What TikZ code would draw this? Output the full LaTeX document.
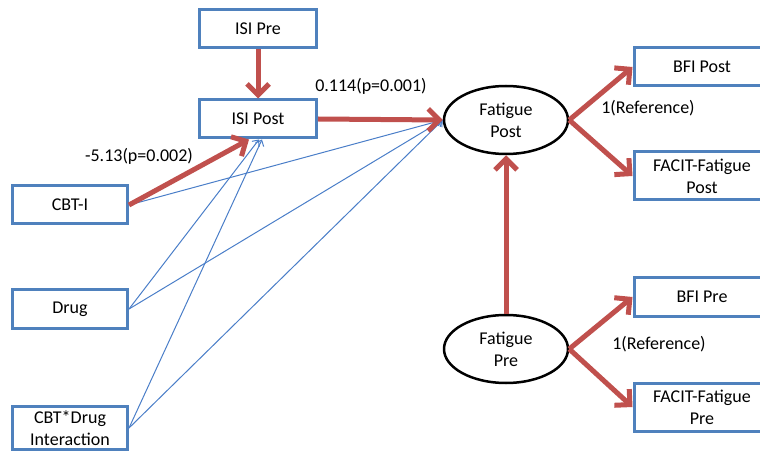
\documentclass[tikz,border=0pt]{standalone}
\usepackage{fontspec}
\setmainfont{Carlito}
\usepackage{tikz}
\usetikzlibrary{arrows.meta,shapes.geometric}
\definecolor{SEMBlue}{HTML}{4F81BD}
\definecolor{SEMRed}{HTML}{C0504D}
\definecolor{SEMLink}{HTML}{4A7EC8}
\tikzset{
  obsbox/.style={draw=SEMBlue,line width=3pt,fill=white,minimum width=117pt,minimum height=38pt,align=center,inner sep=1pt},
  outbox/.style={obsbox,minimum width=136pt},
  latent/.style={draw=black,line width=2.5pt,ellipse,fill=white,minimum width=124pt,minimum height=68pt,align=center,inner sep=0pt},
  strongpath/.style={draw=SEMRed,line width=5pt,-{Straight Barb[length=11pt,width=22pt,line width=5pt]}},
  weakpath/.style={draw=SEMLink,line width=1pt,-{Straight Barb[length=5pt,width=9pt]}},
  estlabel/.style={font=\fontsize{18}{22}\selectfont}
}
\begin{document}
\begin{tikzpicture}[x=1pt,y=-1pt,font=\fontsize{18}{22}\selectfont]
\path[use as bounding box] (0,0) rectangle (760,454);
\clip (0,0) rectangle (760,454);
% predictors
\node[obsbox] (isipre) at (258,29) {ISI Pre};
\node[obsbox] (isipost) at (258,119) {ISI Post};
\node[obsbox,minimum width=115pt] (cbti) at (70,205) {CBT-I};
\node[obsbox,minimum width=115pt] (drug) at (70,309) {Drug};
\node[obsbox,minimum width=115pt,minimum height=43pt] (inter) at (70,428) {CBT*Drug\\Interaction};
% latent fatigue
\node[latent] (fatpost) at (506,120) {Fatigue\\Post};
\node[latent] (fatpre) at (506,349) {Fatigue\\Pre};
% indicators
\node[outbox] (bfipost) at (702,67) {BFI Post};
\node[outbox,minimum height=48pt] (facitpost) at (702,176) {FACIT-Fatigue\\Post};
\node[outbox] (bfipre) at (702,297) {BFI Pre};
\node[outbox,minimum height=48pt] (facitpre) at (702,407) {FACIT-Fatigue\\Pre};
% thin paths
\draw[weakpath] (cbti.east) -- (fatpost.west);
\draw[weakpath] (drug.east) -- ([xshift=1pt]isipost.south);
\draw[weakpath] (drug.east) -- (fatpost.west);
\draw[weakpath] (inter.east) -- ([xshift=4pt]isipost.south);
\draw[weakpath] (inter.east) -- (fatpost.west);
% thick paths
\draw[strongpath] (isipre.south) -- (isipost.north);
\draw[strongpath] (cbti.east) -- ([xshift=-9pt]isipost.south);
\draw[strongpath] (isipost.east) -- (fatpost.west);
\draw[strongpath] (fatpre.north) -- (fatpost.south);
\draw[strongpath] (fatpost.east) -- (bfipost.west);
\draw[strongpath] (fatpost.east) -- (facitpost.west);
\draw[strongpath] (fatpre.east) -- (bfipre.west);
\draw[strongpath] (fatpre.east) -- (facitpre.west);
% estimates
\node[estlabel] (estfat) at (371,86) {0.114(p=0.001)};
\node[estlabel] (estcbt) at (139,156) {-5.13(p=0.002)};
\node[estlabel] (refpost) at (648,108) {1(Reference)};
\node[estlabel] (refpre) at (659,344) {1(Reference)};
\end{tikzpicture}
\end{document}
